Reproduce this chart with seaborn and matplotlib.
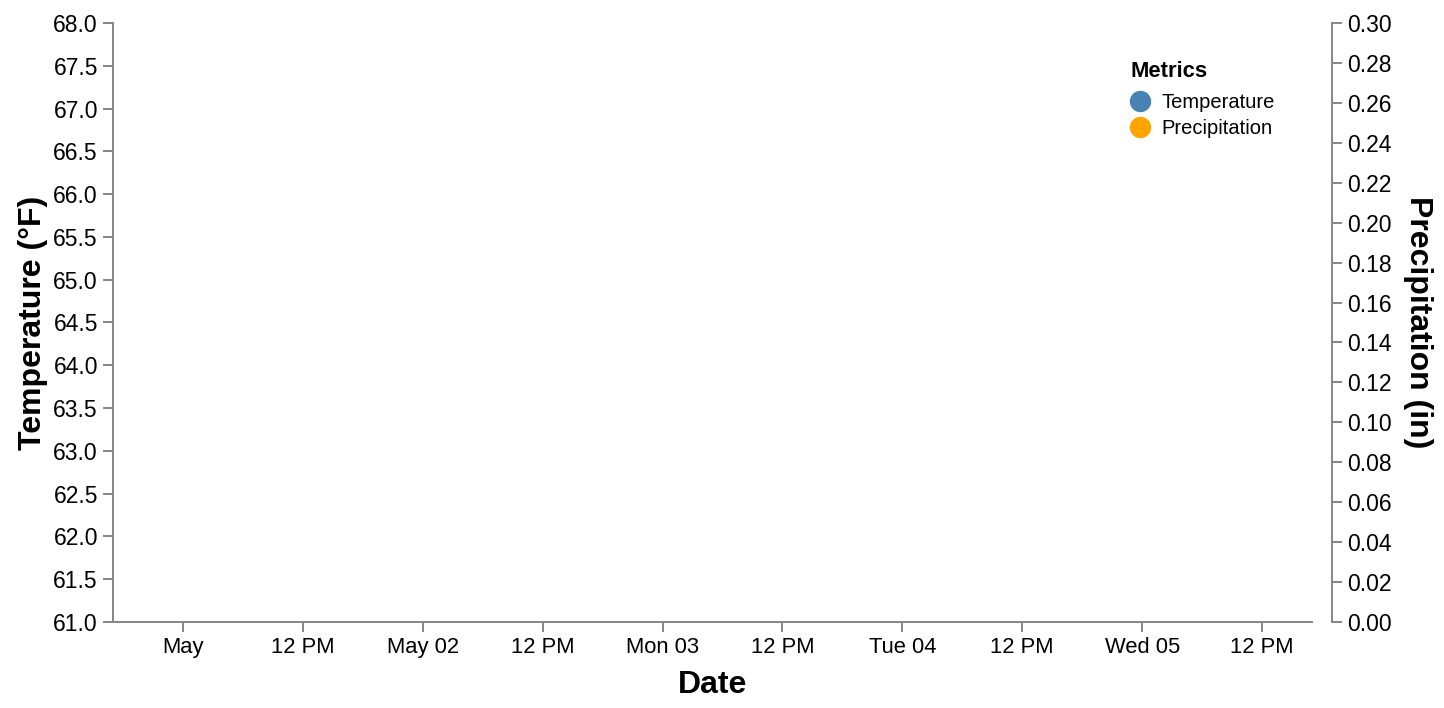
import matplotlib
matplotlib.use("Agg")
import matplotlib.pyplot as plt
import matplotlib.dates as mdates
from matplotlib.lines import Line2D
from matplotlib.ticker import FixedLocator, FormatStrFormatter
import seaborn as sns
import pandas as pd
from datetime import datetime

# ---- data (the reference chart shows no data marks) ----
dates = []
temperature = []
precipitation = []

series_names = ["Temperature", "Precipitation"]
series_colors = ["#4682b4", "#ffa500"]

x_start = datetime(2021, 4, 30, 17, 0)
x_end = datetime(2021, 5, 5, 17, 0)
x_tick_times = [datetime(2021, 5, 1, 0), datetime(2021, 5, 1, 12),
                datetime(2021, 5, 2, 0), datetime(2021, 5, 2, 12),
                datetime(2021, 5, 3, 0), datetime(2021, 5, 3, 12),
                datetime(2021, 5, 4, 0), datetime(2021, 5, 4, 12),
                datetime(2021, 5, 5, 0), datetime(2021, 5, 5, 12)]
x_tick_labels = ["May", "12 PM", "May 02", "12 PM", "Mon 03", "12 PM",
                 "Tue 04", "12 PM", "Wed 05", "12 PM"]

temp_ticks = [61.0, 61.5, 62.0, 62.5, 63.0, 63.5, 64.0, 64.5, 65.0, 65.5,
              66.0, 66.5, 67.0, 67.5, 68.0]
precip_ticks = [0.00, 0.02, 0.04, 0.06, 0.08, 0.10, 0.12, 0.14, 0.16, 0.18,
                0.20, 0.22, 0.24, 0.26, 0.28, 0.30]

# ---- style ----
sns.set_theme(style="ticks")
plt.rcParams["font.family"] = ["Liberation Sans", "DejaVu Sans"]
plt.rcParams["text.color"] = "black"
plt.rcParams["axes.labelcolor"] = "black"
AX_COLOR = "#888888"

W, H = 1444, 708
fig = plt.figure(figsize=(W / 100, H / 100), dpi=100)
L, R, T, B = 113, 1312, 23, 622
ax = fig.add_axes([L / W, 1 - B / H, (R - L) / W, (B - T) / H])
ax2 = ax.twinx()

df_t = pd.DataFrame({"date": pd.to_datetime(pd.Series(dates, dtype="object")),
                     "value": pd.Series(temperature, dtype=float)})
df_p = pd.DataFrame({"date": pd.to_datetime(pd.Series(dates, dtype="object")),
                     "value": pd.Series(precipitation, dtype=float)})
if len(df_t) > 0:
    sns.lineplot(data=df_t, x="date", y="value", ax=ax, color=series_colors[0])
if len(df_p) > 0:
    sns.lineplot(data=df_p, x="date", y="value", ax=ax2, color=series_colors[1])

ax.set_xlim(mdates.date2num(x_start), mdates.date2num(x_end))
ax.set_ylim(temp_ticks[0], temp_ticks[-1])
ax2.set_ylim(precip_ticks[0], precip_ticks[-1])

ax.xaxis.set_major_locator(FixedLocator(mdates.date2num(x_tick_times)))
ax.set_xticklabels(x_tick_labels)
ax.yaxis.set_major_locator(FixedLocator(temp_ticks))
ax.yaxis.set_major_formatter(FormatStrFormatter("%.1f"))
ax2.yaxis.set_major_locator(FixedLocator(precip_ticks))
ax2.yaxis.set_major_formatter(FormatStrFormatter("%.2f"))

for a in (ax, ax2):
    a.grid(False)
    a.set_facecolor("none")
    for s in a.spines.values():
        s.set_visible(False)
    a.tick_params(axis="both", which="major", length=7.2, width=1.44,
                  color=AX_COLOR, labelsize=16.5, labelcolor="black", pad=3.6)

for s in ("left", "bottom"):
    ax.spines[s].set_visible(True)
    ax.spines[s].set_color(AX_COLOR)
    ax.spines[s].set_linewidth(1.44)
ax2.spines["right"].set_visible(True)
ax2.spines["right"].set_color(AX_COLOR)
ax2.spines["right"].set_linewidth(1.44)
ax2.spines["right"].set_position(("outward", 14.4))
ax.tick_params(axis="x", labelsize=15.8)

ax.set_xlabel("Date", fontsize=23, fontweight="bold", color="black")
ax.set_ylabel("Temperature (°F)", fontsize=23, fontweight="bold", color="black")
ax2.set_ylabel("Precipitation (in)", fontsize=23, fontweight="bold",
               rotation=270, color="black")

ax.xaxis.label.set_va("center")
ax.xaxis.set_label_coords(0.5, (708 - 685 - (708 - B)) / (B - T))
ax.yaxis.label.set_va("center")
ax.yaxis.set_label_coords((33 - L) / (R - L), 0.5)
ax2.yaxis.label.set_va("center")
ax2.yaxis.set_label_coords((1418 - L) / (R - L), 0.5)

handles = [Line2D([0], [0], marker="o", linestyle="none", markersize=14.4,
                  markerfacecolor=c, markeredgecolor=c) for c in series_colors]
leg = ax.legend(handles, series_names, title="Metrics", loc="upper left",
                bbox_to_anchor=(1130 / W, 1 - 61 / H), bbox_transform=fig.transFigure,
                frameon=False, fontsize=14.5, title_fontsize=15.8,
                alignment="left", handlelength=1.0, handletextpad=0.55,
                labelspacing=0.33, borderaxespad=0, borderpad=0,
                labelcolor="black")
leg.get_title().set_fontweight("bold")
leg.get_title().set_color("black")
leg._legend_box.sep = 8

fig.savefig("out.png", dpi=100)
